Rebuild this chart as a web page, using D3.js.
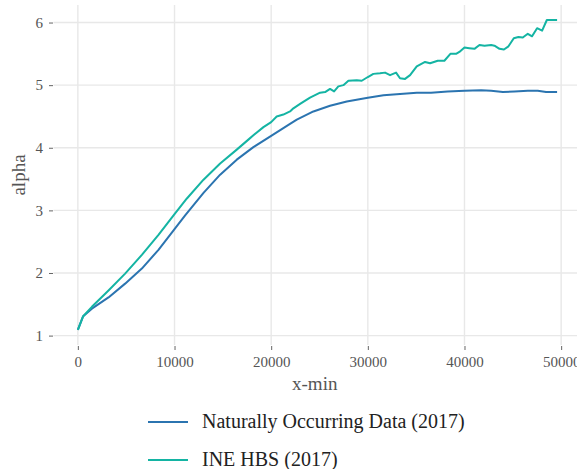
<!DOCTYPE html>
<html>
<head>
<meta charset="utf-8">
<script src="https://cdn.jsdelivr.net/npm/d3@7"></script>
<style>
  html, body { margin: 0; padding: 0; background: #fff; }
  svg { display: block; }
  text { font-family: "Liberation Serif", "DejaVu Serif", serif; }
</style>
</head>
<body>
<svg id="chart" width="577" height="469"></svg>
<script>
// x-min thresholds and fitted alpha, naturally occurring data
const naturalX = [0, 550, 1450, 3170, 4890, 6620, 8340, 10000, 11100, 13000, 14720, 16440,
  18160, 20000, 21950, 22650, 24370, 26090, 27820, 30000, 31620, 33330, 35060, 36540,
  38260, 40000, 41720, 42760, 43970, 45170, 46550, 47580, 48440, 49580];
const naturalAlpha = [1.09, 1.31, 1.43, 1.61, 1.83, 2.07, 2.37, 2.70, 2.92, 3.28, 3.57, 3.81,
  4.01, 4.19, 4.38, 4.45, 4.58, 4.67, 4.74, 4.80, 4.84, 4.86, 4.88, 4.88,
  4.90, 4.91, 4.92, 4.91, 4.89, 4.90, 4.91, 4.91, 4.89, 4.89];

// x-min thresholds and fitted alpha, INE household budget survey
const hbsX = [0, 550, 1450, 3170, 4890, 6620, 8340, 10000, 11280, 13000, 14720, 16440,
  17640, 18160, 19200, 20000, 20570, 21260, 21950, 22300, 22990, 24020, 25060, 25580,
  26090, 26510, 26950, 27470, 27990, 28850, 29370, 30000, 30570, 31260, 31780, 32300,
  32920, 33330, 33850, 34370, 35060, 35920, 36440, 37230, 37920, 38540, 39130, 39470,
  40000, 40500, 41030, 41550, 42070, 42760, 43100, 43620, 44080, 44550, 45100, 45580,
  46030, 46550, 46990, 47510, 48030, 48520, 49030, 49580];
const hbsAlpha = [1.09, 1.31, 1.46, 1.72, 1.99, 2.29, 2.61, 2.94, 3.19, 3.49, 3.75, 3.97,
  4.13, 4.20, 4.33, 4.41, 4.50, 4.53, 4.58, 4.63, 4.70, 4.80, 4.88, 4.89,
  4.94, 4.90, 4.98, 5.00, 5.07, 5.08, 5.07, 5.13, 5.18, 5.19, 5.20, 5.16,
  5.20, 5.11, 5.10, 5.16, 5.30, 5.37, 5.35, 5.39, 5.39, 5.50, 5.50, 5.53,
  5.60, 5.59, 5.58, 5.64, 5.63, 5.64, 5.63, 5.58, 5.57, 5.62, 5.75, 5.77,
  5.76, 5.82, 5.78, 5.91, 5.87, 6.04, 6.04, 6.04];

const xTicks = [0, 10000, 20000, 30000, 40000, 50000];
const yTicks = [1, 2, 3, 4, 5, 6];
const seriesNames = ["Naturally Occurring Data (2017)", "INE HBS (2017)"];
const seriesColors = ["#2b74b0", "#14b4a3"];

const svg = d3.select("#chart");

// panel rectangle in pixels
const panel = { left: 53.5, right: 580, top: 5, bottom: 345 };

const x = d3.scaleLinear().domain([-2520, 51950]).range([panel.left, panel.right]);
const y = d3.scaleLinear().domain([0.85, 6.28]).range([panel.bottom, panel.top]);

const gridColor = "#e8e8e8";
const labelColor = "#555";

// grid
const g = svg.append("g");
g.selectAll("line.vgrid").data(xTicks).join("line")
  .attr("x1", d => x(d)).attr("x2", d => x(d))
  .attr("y1", panel.top).attr("y2", panel.bottom)
  .attr("stroke", gridColor).attr("stroke-width", 1.4);
g.selectAll("line.hgrid").data(yTicks).join("line")
  .attr("y1", d => y(d)).attr("y2", d => y(d))
  .attr("x1", panel.left).attr("x2", panel.right)
  .attr("stroke", gridColor).attr("stroke-width", 1.4);

// x axis below the panel
const xAxis = d3.axisBottom(x).tickValues(xTicks).tickFormat(d3.format("d"))
  .tickSize(4).tickPadding(6);
const gx = svg.append("g").attr("transform", `translate(0,${panel.bottom + 1})`).call(xAxis);
gx.select(".domain").remove();
gx.selectAll(".tick line").attr("stroke", "#666").attr("stroke-width", 1);
gx.selectAll(".tick text").attr("fill", labelColor).attr("font-size", 15)
  .attr("font-family", "Liberation Serif, serif");

// y axis left of the panel
const yAxis = d3.axisLeft(y).tickValues(yTicks).tickFormat(d3.format("d"))
  .tickSize(4).tickPadding(6);
const gy = svg.append("g").attr("transform", `translate(${panel.left - 0.5},0)`).call(yAxis);
gy.select(".domain").remove();
gy.selectAll(".tick line").attr("stroke", "#666").attr("stroke-width", 1);
gy.selectAll(".tick text").attr("fill", labelColor).attr("font-size", 15)
  .attr("font-family", "Liberation Serif, serif");

// axis titles
svg.append("text")
  .attr("x", (panel.left + panel.right) / 2 - 2).attr("y", 390)
  .attr("text-anchor", "middle").attr("fill", labelColor).attr("font-size", 19)
  .text("x-min");
svg.append("text")
  .attr("transform", `translate(25,${(panel.top + panel.bottom) / 2}) rotate(-90)`)
  .attr("text-anchor", "middle").attr("fill", labelColor).attr("font-size", 19)
  .text("alpha");

// lines
const line = d3.line().x(d => x(d[0])).y(d => y(d[1]));
const series = [
  d3.zip(naturalX, naturalAlpha),
  d3.zip(hbsX, hbsAlpha)
];
svg.append("g").selectAll("path").data(series).join("path")
  .attr("d", line)
  .attr("fill", "none")
  .attr("stroke", (d, i) => seriesColors[i])
  .attr("stroke-width", 2)
  .attr("stroke-linejoin", "round");

// legend
const legend = svg.append("g");
const legendRows = [422, 460];
seriesNames.forEach((name, i) => {
  legend.append("line")
    .attr("x1", 148).attr("x2", 188)
    .attr("y1", legendRows[i]).attr("y2", legendRows[i])
    .attr("stroke", seriesColors[i]).attr("stroke-width", 2);
  legend.append("text")
    .attr("x", 202).attr("y", legendRows[i] + 6)
    .attr("fill", "#222").attr("font-size", 20)
    .text(name);
});
</script>
</body>
</html>
